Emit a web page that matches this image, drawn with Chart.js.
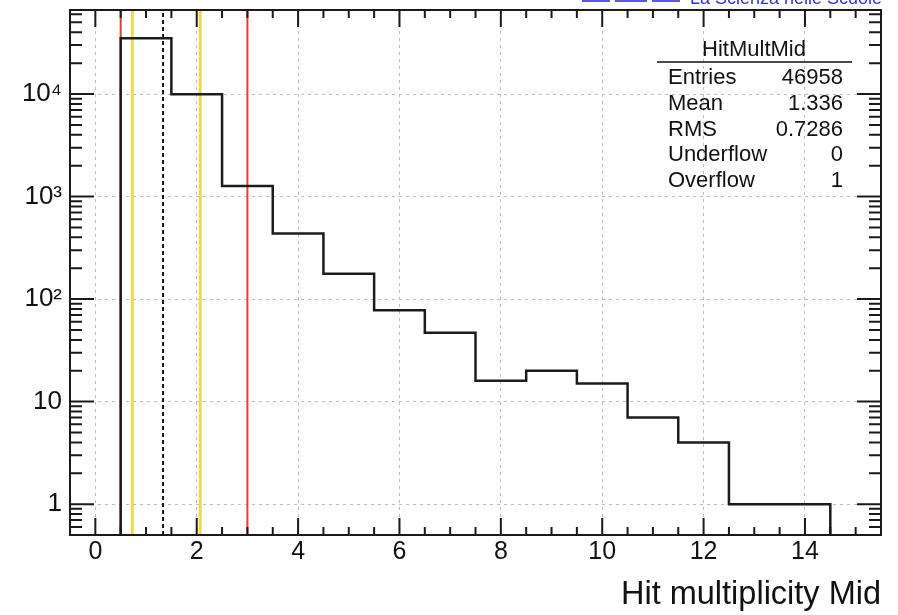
<!DOCTYPE html>
<html lang="it">
<head>
  <meta charset="UTF-8">
  <title>HitMultMid</title>
  <script src="https://cdn.jsdelivr.net/npm/chart.js"></script>
  <style>
    html, body { margin: 0; padding: 0; background: #fff; }
    canvas { display: block; }
  </style>
</head>
<body>
  <canvas id="grafico" width="898" height="615"></canvas>

  <script>
    // bin edges (width 1, centred on integers) and bin contents
    const BIN_EDGES = [0.5, 1.5, 2.5, 3.5, 4.5, 5.5, 6.5, 7.5, 8.5, 9.5, 10.5, 11.5, 12.5, 13.5, 14.5];
    const COUNTS = [34900, 9950, 1270, 435, 177, 78, 47, 16, 20, 15, 7, 4, 1, 1];

    const X_TICKS = [0, 2, 4, 6, 8, 10, 12, 14];
    const Y_TICKS = [1, 10, 100, 1000, 10000];
    const Y_LABELS = ['1', '10', '10²', '10³', '10⁴'];
    const X_MIN = -0.5, X_MAX = 15.5, Y_MIN = 0.5, Y_MAX = 66000;

    // vertical marker lines
    const RED_LINES = [0.5, 3.0];
    const YELLOW_LINES = [0.73, 2.07];
    const MEAN_LINE = 1.336;

    const STATS_NAME = 'HitMultMid';
    const STATS_LABELS = ['Entries', 'Mean', 'RMS', 'Underflow', 'Overflow'];
    const STATS_VALUES = ['46958', '1.336', '0.7286', '0', '1'];

    const FONT = "'Liberation Sans', Arial, Helvetica, sans-serif";
    Chart.defaults.font.family = FONT;
    Chart.defaults.color = '#111';

    // histogram outline as stepped line
    const histPoints = [{ x: BIN_EDGES[0], y: Y_MIN }];
    COUNTS.forEach((c, i) => histPoints.push({ x: BIN_EDGES[i], y: c }));
    const last = BIN_EDGES[COUNTS.length];
    histPoints.push({ x: last, y: COUNTS[COUNTS.length - 1] });
    histPoints.push({ x: last, y: Y_MIN });

    const vline = (x, color, width, dash, order) => ({
      data: [{ x: x, y: Y_MIN }, { x: x, y: Y_MAX }],
      borderColor: color,
      borderWidth: width,
      borderDash: dash,
      pointRadius: 0,
      order: order
    });

    const datasets = [{
      data: histPoints,
      borderColor: '#1c1c1c',
      borderWidth: 2.5,
      stepped: 'before',
      pointRadius: 0,
      order: 0
    }];
    RED_LINES.forEach(v => datasets.push(vline(v, '#ee3a36', 2, [], 3)));
    YELLOW_LINES.forEach(v => datasets.push(vline(v, 'rgba(242,212,60,0.9)', 3, [], 2)));
    datasets.push(vline(MEAN_LINE, '#111', 2, [4, 3], 1));

    // ROOT style frame, inner ticks, stats box and header text
    const rootFrame = {
      id: 'rootFrame',
      afterDatasetsDraw(chart) {
        const { ctx, chartArea: a, scales: { x, y } } = chart;
        ctx.save();
        ctx.strokeStyle = '#1a1a1a';
        ctx.lineWidth = 2;
        ctx.beginPath();
        for (let k = 1; k < (X_MAX - X_MIN) * 2; k++) {
          const v = X_MIN + k * 0.5;
          const px = x.getPixelForValue(v);
          const len = (v % 2 === 0) ? 17 : 8;
          ctx.moveTo(px, a.bottom); ctx.lineTo(px, a.bottom - len);
          ctx.moveTo(px, a.top); ctx.lineTo(px, a.top + len);
        }
        for (let e = -1; e <= 4; e++) {
          for (let m = 1; m <= 9; m++) {
            const v = m * Math.pow(10, e);
            if (v < Y_MIN || v > Y_MAX) continue;
            const py = y.getPixelForValue(v);
            const len = m === 1 ? 24 : 12;
            ctx.moveTo(a.left, py); ctx.lineTo(a.left + len, py);
            ctx.moveTo(a.right, py); ctx.lineTo(a.right - len, py);
          }
        }
        ctx.stroke();
        ctx.strokeRect(a.left, a.top, a.right - a.left, a.bottom - a.top);
        ctx.restore();
      },
      afterDraw(chart) {
        const ctx = chart.ctx;
        ctx.save();
        ctx.fillStyle = '#111';
        ctx.font = '22px ' + FONT;
        ctx.textBaseline = 'middle';
        ctx.textAlign = 'center';
        ctx.fillText(STATS_NAME, 754, 50);
        ctx.strokeStyle = '#111';
        ctx.lineWidth = 1.5;
        ctx.beginPath();
        ctx.moveTo(657, 62); ctx.lineTo(852, 62);
        ctx.stroke();
        STATS_LABELS.forEach((lab, i) => {
          const ty = 78 + i * 25.8;
          ctx.textAlign = 'left';
          ctx.fillText(lab, 668, ty);
          ctx.textAlign = 'right';
          ctx.fillText(STATS_VALUES[i], 843, ty);
        });
        // header, cut off by the top of the picture
        ctx.fillStyle = '#3434d6';
        ctx.font = '18px ' + FONT;
        ctx.textAlign = 'left';
        ctx.textBaseline = 'alphabetic';
        ctx.fillText('La Scienza nelle Scuole', 690, 4);
        ctx.strokeStyle = '#5a5ae0';
        ctx.lineWidth = 2;
        ctx.beginPath();
        ctx.moveTo(582, 1); ctx.lineTo(610, 1);
        ctx.moveTo(615, 1); ctx.lineTo(647, 1);
        ctx.moveTo(652, 1); ctx.lineTo(680, 1);
        ctx.stroke();
        ctx.restore();
      }
    };

    new Chart(document.getElementById('grafico').getContext('2d'), {
      type: 'line',
      data: { datasets: datasets },
      plugins: [rootFrame],
      options: {
        responsive: false,
        animation: false,
        layout: { padding: { top: 10, right: 17, left: 0, bottom: 0 } },
        plugins: { legend: { display: false }, tooltip: { enabled: false } },
        elements: { line: { tension: 0 } },
        scales: {
          x: {
            type: 'linear',
            min: X_MIN,
            max: X_MAX,
            afterBuildTicks: s => { s.ticks = X_TICKS.map(v => ({ value: v })); },
            afterFit: s => { s.height = 80; s.paddingLeft = 0; s.paddingRight = 0; },
            ticks: { font: { size: 25 }, padding: 2, maxRotation: 0, autoSkip: false, callback: v => String(v) },
            grid: { color: '#bdbdbd', lineWidth: 1, drawTicks: false },
            border: { display: false, dash: [3, 4] },
            title: { display: true, text: 'Hit multiplicity Mid', align: 'end', font: { size: 32.5 }, padding: 0 }
          },
          y: {
            type: 'logarithmic',
            min: Y_MIN,
            max: Y_MAX,
            afterBuildTicks: s => { s.ticks = Y_TICKS.map(v => ({ value: v })); },
            afterFit: s => { s.width = 70; s.paddingTop = 0; s.paddingBottom = 0; },
            ticks: { font: { size: 26 }, padding: 8, autoSkip: false, callback: (v, i) => Y_LABELS[i] },
            grid: { color: '#bdbdbd', lineWidth: 1, drawTicks: false },
            border: { display: false, dash: [3, 4] }
          }
        }
      }
    });
  </script>
</body>
</html>
